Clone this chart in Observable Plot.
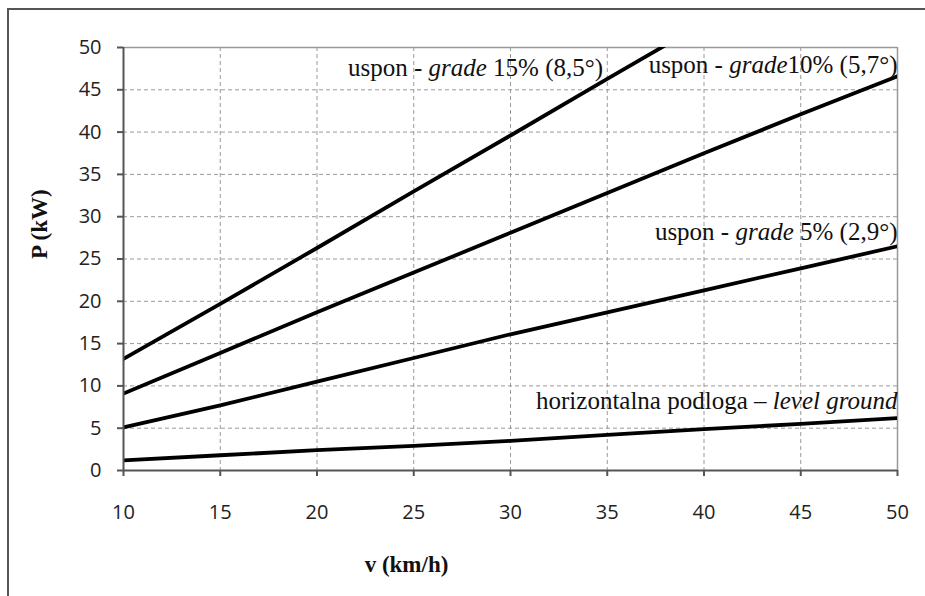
<!DOCTYPE html>
<html>
<head>
<meta charset="utf-8">
<script src="https://cdn.jsdelivr.net/npm/d3@7"></script>
<script src="https://cdn.jsdelivr.net/npm/@observablehq/plot@0.6"></script>
<style>
  html, body { margin: 0; padding: 0; background: #fff; }
  #wrap { position: relative; width: 925px; height: 596px; overflow: hidden; }
  #border { position: absolute; left: 7px; top: 8px; width: 930px; height: 600px;
            border-left: 2px solid #555; border-top: 2px solid #555; }
  #chart { position: absolute; left: 0; top: 0; }
</style>
</head>
<body>
<div id="wrap"><div id="border"></div><div id="chart"></div></div>
<script>
const speeds = [10, 15, 20, 25, 30, 35, 40, 45, 50];
const levelGround = [1.2, 1.8, 2.4, 2.9, 3.5, 4.2, 4.9, 5.5, 6.2];
const grade5 = [5.1, 7.7, 10.5, 13.3, 16.1, 18.7, 21.3, 23.9, 26.5];
const grade10 = [9.1, 13.9, 18.7, 23.4, 28.1, 32.8, 37.5, 42.1, 46.6];
const grade15 = [13.2, 19.7, 26.3, 33.0, 39.6, 46.3, 52.9, 59.5, 66.1];

const seriesNames = ["level", "g5", "g10", "g15"];
const seriesValues = [levelGround, grade5, grade10, grade15];

const labelTexts = [
  "uspon - *grade* 15% (8,5°)",
  "uspon - *grade*10% (5,7°)",
  "uspon - *grade* 5% (2,9°)",
  "horizontalna podloga – *level ground*"
];
const labelV = [21.6, 50, 50, 50];
const labelP = [46.6, 47.0, 27.2, 7.3];
const labelAnchor = ["start", "end", "end", "end"];

const xTicks = [10, 15, 20, 25, 30, 35, 40, 45, 50];
const yTicks = [0, 5, 10, 15, 20, 25, 30, 35, 40, 45, 50];

const rows = [];
seriesNames.forEach((s, i) => speeds.forEach((v, j) => rows.push({series: s, v, p: seriesValues[i][j]})));
const labels = labelTexts.map((t, i) => ({t, v: labelV[i], p: labelP[i], a: labelAnchor[i]}));

const serif = "'Liberation Serif', 'Times New Roman', serif";
const sans = "'Open Sans', 'DejaVu Sans', sans-serif";

const chart = Plot.plot({
  width: 925,
  height: 596,
  marginLeft: 123,
  marginRight: 28,
  marginTop: 47,
  marginBottom: 126,
  style: {background: "transparent"},
  x: {domain: [10, 50]},
  y: {domain: [0, 50]},
  marks: [
    Plot.gridX(xTicks.slice(1, -1), {stroke: "#999", strokeOpacity: 1, strokeDasharray: "4,3", strokeWidth: 1}),
    Plot.gridY(yTicks.slice(1, -1), {stroke: "#999", strokeOpacity: 1, strokeDasharray: "4,3", strokeWidth: 1}),
    Plot.ruleX([50], {stroke: "#999", strokeWidth: 1.5}),
    Plot.ruleY([50], {stroke: "#999", strokeWidth: 1.5}),
    Plot.line(rows, {x: "v", y: "p", z: "series", stroke: "#000", strokeWidth: 3.8, clip: true}),
    Plot.ruleX([10], {stroke: "#555", strokeWidth: 2}),
    Plot.ruleY([0], {stroke: "#555", strokeWidth: 2}),
    Plot.axisX(xTicks, {tickSize: 6, tickPadding: 28, stroke: "#555", strokeWidth: 2, fontSize: 20, fontFamily: sans, fill: "#222", label: null}),
    Plot.axisY(yTicks, {tickSize: 6, tickPadding: 16, stroke: "#555", strokeWidth: 2, fontSize: 20, fontFamily: sans, fill: "#222", label: null}),
    Plot.text(labels.filter(d => d.a === "start"), {x: "v", y: "p", text: "t", textAnchor: "start", lineAnchor: "bottom", fontSize: 25, fontFamily: serif, fill: "#111", className: "rich"}),
    Plot.text(labels.filter(d => d.a === "end"), {x: "v", y: "p", text: "t", textAnchor: "end", lineAnchor: "bottom", fontSize: 25, fontFamily: serif, fill: "#111", className: "rich"}),
    Plot.text(["P (kW)"], {frameAnchor: "left", dx: -84, rotate: -90, fontSize: 23, fontWeight: "bold", fontFamily: serif, fill: "#111"}),
    Plot.text(["v (km/h)"], {frameAnchor: "bottom", dx: -104, dy: 101, fontSize: 23, fontWeight: "bold", fontFamily: serif, fill: "#111"})
  ]
});

// rich text: *...* segments italic
d3.select(chart).selectAll("g.rich text").each(function() {
  const el = d3.select(this);
  const txt = el.text();
  el.text(null);
  txt.split("*").forEach((seg, i) => {
    if (!seg) return;
    el.append("tspan").attr("font-style", i % 2 ? "italic" : null).text(seg);
  });
});

document.getElementById("chart").appendChild(chart);
</script>
</body>
</html>
